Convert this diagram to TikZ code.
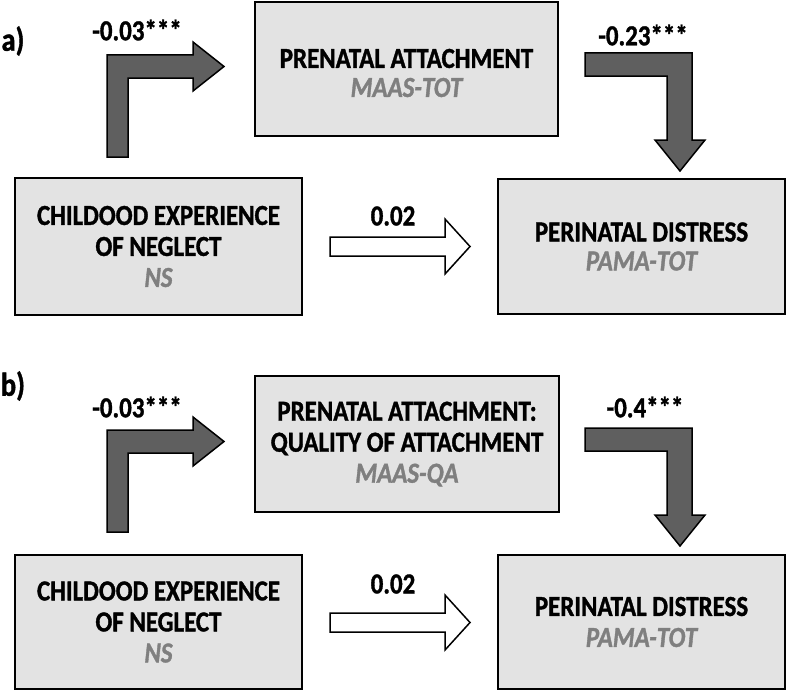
\documentclass[tikz,border=0pt]{standalone}
\usepackage{fontspec}
\setmainfont{Carlito}[FakeStretch=0.86, BoldFeatures={FakeBold=1.2}, BoldItalicFeatures={FakeBold=1.2}]
\usetikzlibrary{positioning}
\definecolor{boxgray}{HTML}{E3E3E3}
\definecolor{arrowgray}{HTML}{5F5F5F}
\definecolor{codegray}{HTML}{7F7F7F}

\begin{document}
\begin{tikzpicture}[x=1pt, y=-1pt,
  every node/.style={font=\bfseries\fontsize{29}{31}\selectfont},
  varbox/.style={draw, rectangle, fill=boxgray, line width=1.3pt, align=center, inner sep=0pt},
  bentarrow/.style={draw, fill=arrowgray, line width=1.5pt, line join=miter},
  openarrow/.style={draw, fill=white, line width=1.5pt, line join=miter},
  coef/.style={inner sep=0pt},
  panel/.style={font=\bfseries\fontsize{33}{36}\selectfont, inner sep=0pt}]
\useasboundingbox (0,0) rectangle (786,693);

% panel a
\node (panA) [panel] at (13,41) {a)};
\node (attA) [varbox, minimum width=303pt, minimum height=134pt,
  label={[align=center, yshift=-4pt]center:PRENATAL ATTACHMENT\\[-2pt] \textcolor{codegray}{\itshape MAAS-TOT}}]
  at (406.5,69) {};
\node (negA) [varbox, minimum width=287pt, minimum height=137pt] at (158.5,246.5)
{CHILDOOD EXPERIENCE\\ OF NEGLECT\\ \textcolor{codegray}{\itshape NS}};
\node (distA) [varbox, minimum width=287pt, minimum height=135pt] at (641.5,246.5)
{PERINATAL DISTRESS\\[-2pt] \textcolor{codegray}{\itshape PAMA-TOT}};
\node (coefA1) [coef] at (137,30) {-0.03***};
\node (coefA2) [coef] at (643,35) {-0.23***};
\node (coefA3) [coef] at (393,216) {0.02};
\draw[bentarrow] (107,157) -- (107,55) -- (193,55) -- (193,42) -- (224,66.5)
  -- (193,91) -- (193,78) -- (128,78) -- (128,157) -- cycle;
\draw[bentarrow] (585,53) -- (692,53) -- (692,140) -- (705,140) -- (680,171)
  -- (655,140) -- (667,140) -- (667,76) -- (585,76) -- cycle;
\draw[openarrow] (330,237) -- (445,237) -- (445,219) -- (470,246.5) -- (445,274)
  -- (445,256) -- (330,256) -- cycle;

% panel b
\node (panB) [panel] at (13,386) {b)};
\node (attB) [varbox, minimum width=304pt, minimum height=136pt] at (407,444)
{PRENATAL ATTACHMENT:\\ QUALITY OF ATTACHMENT\\ \textcolor{codegray}{\itshape MAAS-QA}};
\node (negB) [varbox, minimum width=287pt, minimum height=134pt] at (158.5,622)
{CHILDOOD EXPERIENCE\\ OF NEGLECT\\ \textcolor{codegray}{\itshape NS}};
\node (distB) [varbox, minimum width=287pt, minimum height=134pt] at (641.5,622)
{PERINATAL DISTRESS\\ \textcolor{codegray}{\itshape PAMA-TOT}};
\node (coefB1) [coef] at (137,407) {-0.03***};
\node (coefB2) [coef] at (645,407) {-0.4***};
\node (coefB3) [coef] at (393,584) {0.02};
\draw[bentarrow, shift={(0,375)}] (107,157) -- (107,55) -- (193,55) -- (193,42) -- (224,66.5)
  -- (193,91) -- (193,78) -- (128,78) -- (128,157) -- cycle;
\draw[bentarrow, shift={(0,375)}] (585,53) -- (692,53) -- (692,140) -- (705,140) -- (680,171)
  -- (655,140) -- (667,140) -- (667,76) -- (585,76) -- cycle;
\draw[openarrow, shift={(0,376)}] (330,237) -- (445,237) -- (445,219) -- (470,246.5) -- (445,274)
  -- (445,256) -- (330,256) -- cycle;
\end{tikzpicture}
\end{document}
